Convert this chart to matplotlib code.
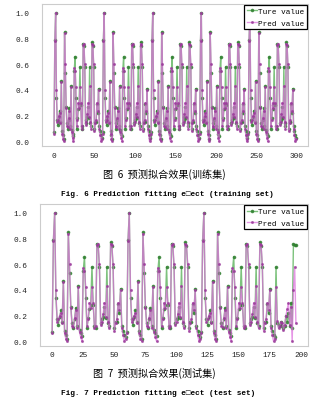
import matplotlib
matplotlib.use("Agg")
import matplotlib.pyplot as plt

# one 60-sample cycle (both sets repeat it)
true_cycle = [0.07, 0.79, 1.00, 0.34, 0.17, 0.13, 0.19, 0.24, 0.15, 0.47,
              0.08, 0.05, 0.02, 0.85, 0.53, 0.27, 0.14, 0.10, 0.17, 0.26,
              0.12, 0.43, 0.09, 0.06, 0.04, 0.55, 0.66, 0.34, 0.10, 0.18,
              0.25, 0.28, 0.58, 0.28, 0.12, 0.10, 0.76, 0.74, 0.58, 0.14,
              0.17, 0.19, 0.27, 0.18, 0.58, 0.14, 0.12, 0.77, 0.74, 0.58,
              0.10, 0.15, 0.15, 0.29, 0.22, 0.41, 0.12, 0.08, 0.05, 0.03]
pred_cycle = [0.06, 0.78, 1.00, 0.40, 0.15, 0.17, 0.20, 0.22, 0.14, 0.46,
              0.06, 0.02, 0.00, 0.84, 0.60, 0.26, 0.12, 0.11, 0.18, 0.24,
              0.10, 0.42, 0.07, 0.03, 0.00, 0.57, 0.55, 0.42, 0.12, 0.17,
              0.30, 0.26, 0.42, 0.30, 0.10, 0.12, 0.75, 0.76, 0.60, 0.13,
              0.15, 0.21, 0.30, 0.19, 0.43, 0.15, 0.10, 0.76, 0.75, 0.60,
              0.08, 0.14, 0.17, 0.30, 0.24, 0.40, 0.10, 0.05, 0.00, 0.02]

# end of the test set differs from the cycle
true_test_tail = [0.58, 0.14, 0.12, 0.13, 0.15, 0.12, 0.10, 0.12, 0.20,
                  0.15, 0.22, 0.12, 0.30, 0.10, 0.76, 0.75, 0.75]
pred_test_tail = [0.42, 0.16, 0.10, 0.12, 0.15, 0.14, 0.09, 0.13, 0.20,
                  0.25, 0.30, 0.13, 0.27, 0.00, 0.40, 0.58, 0.14]

true_train = true_cycle * 5
pred_train = pred_cycle * 5
true_test = true_cycle * 3 + true_test_tail
pred_test = pred_cycle * 3 + pred_test_tail

xticks_train = [0, 50, 100, 150, 200, 250, 300]
xticks_test = [0, 25, 50, 75, 100, 125, 150, 175, 200]
yticks = [0.0, 0.2, 0.4, 0.6, 0.8, 1.0]

cap_cn = ["图  6  预测拟合效果(训练集)", "图  7  预测拟合效果(测试集)"]
cap_en = ["Fig. 6 Prediction fitting e\u25a1ect (training set)",
          "Fig. 7 Prediction fitting e\u25a1ect (test set)"]

mono = ["Liberation Mono", "DejaVu Sans Mono"]
cjk = ["Noto Sans CJK SC", "DejaVu Sans"]

fig = plt.figure(figsize=(3.25, 4.02), dpi=100)
ax1 = fig.add_axes([0.129, 0.634, 0.819, 0.354])
ax2 = fig.add_axes([0.123, 0.137, 0.825, 0.353])


def draw(ax, t, p, xt):
    x = list(range(len(t)))
    ax.plot(x, t, color="#5cb35c", lw=1.0, alpha=0.8, marker="o", ms=1.6,
            mfc="#2f7f2f", mec="#2f7f2f", label="Ture value")
    ax.plot(x, p, color="#dc6adc", lw=1.0, alpha=0.7, marker="o", ms=1.2,
            mfc="#9a3a9a", mec="#9a3a9a", label="Pred value")
    ax.set_xticks(xt)
    ax.set_yticks(yticks)
    ax.set_yticklabels(["%.1f" % v for v in yticks])
    ax.set_ylim(-0.037, 1.07)
    ax.tick_params(length=0, labelsize=5.6, colors="#222222")
    ax.tick_params(axis="y", pad=9)
    ax.tick_params(axis="x", pad=4)
    for lab in ax.get_xticklabels() + ax.get_yticklabels():
        lab.set_family(mono)
    for s in ax.spines.values():
        s.set_color("#cccccc")
        s.set_linewidth(0.8)
    leg = ax.legend(loc="upper right", prop={"family": mono, "size": 5.5},
                    fancybox=False, framealpha=1, edgecolor="black",
                    borderaxespad=0.15, handlelength=1.3, handletextpad=0.2,
                    borderpad=0.35, labelspacing=0.55)
    leg.get_frame().set_linewidth(0.9)


draw(ax1, true_train, pred_train, xticks_train)
draw(ax2, true_test, pred_test, xticks_test)

fig.text(0.505, 0.567, cap_cn[0], ha="center", va="center", fontsize=7.3, family=cjk)
fig.text(0.515, 0.517, cap_en[0], ha="center", va="center", fontsize=5.6,
         family=mono, weight="bold")
fig.text(0.475, 0.072, cap_cn[1], ha="center", va="center", fontsize=7.3, family=cjk)
fig.text(0.486, 0.022, cap_en[1], ha="center", va="center", fontsize=5.6,
         family=mono, weight="bold")

fig.savefig("out.png", dpi=100)
